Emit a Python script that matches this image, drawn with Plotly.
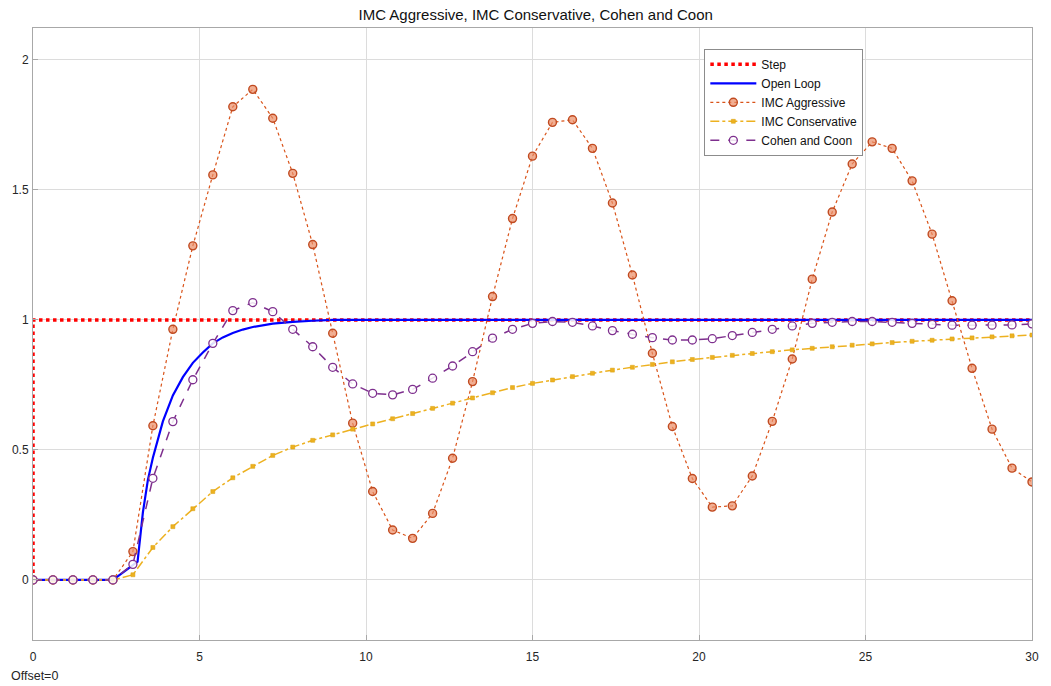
import plotly.graph_objects as go

# time grid of the closed-loop simulations (step 0.6 s)
t = [round(0.6 * i, 1) for i in range(51)]

step_t = [0, 0, 30]
step_y = [0, 1, 1]

open_t = [0, 2.4, 3.14, 3.3, 3.45, 3.6, 3.9, 4.2, 4.5, 4.8, 5.1, 5.4, 5.7, 6.0, 6.3,
          6.6, 7.2, 7.8, 8.4, 9.0, 30]
open_y = [0, 0, 0.07, 0.26, 0.385, 0.47, 0.61, 0.71, 0.78, 0.835, 0.875, 0.91, 0.933,
          0.95, 0.963, 0.973, 0.986, 0.993, 0.997, 1.0, 1.0]

imc_aggr = [0, 0, 0, 0, 0, 0.109, 0.593, 0.964, 1.285, 1.558, 1.82, 1.887, 1.776,
            1.564, 1.29, 0.949, 0.603, 0.34, 0.192, 0.16, 0.256, 0.468, 0.763, 1.09,
            1.39, 1.63, 1.76, 1.77, 1.66, 1.45, 1.173, 0.872, 0.59, 0.39, 0.28, 0.285,
            0.40, 0.61, 0.85, 1.157, 1.415, 1.6, 1.685, 1.66, 1.535, 1.33, 1.074, 0.814,
            0.58, 0.43, 0.377]

imc_cons = [0, 0, 0, 0, 0, 0.02, 0.125, 0.205, 0.274, 0.34, 0.393, 0.437, 0.479,
            0.511, 0.537, 0.558, 0.58, 0.60, 0.62, 0.64, 0.66, 0.68, 0.70, 0.72, 0.74,
            0.756, 0.769, 0.782, 0.795, 0.807, 0.818, 0.829, 0.839, 0.848, 0.856, 0.864,
            0.871, 0.878, 0.885, 0.891, 0.897, 0.903, 0.908, 0.913, 0.918, 0.922, 0.927,
            0.931, 0.935, 0.939, 0.942]

cohen_coon = [0, 0, 0, 0, 0, 0.06, 0.391, 0.609, 0.77, 0.91, 1.036, 1.067, 1.032,
              0.964, 0.897, 0.818, 0.754, 0.718, 0.712, 0.733, 0.776, 0.823, 0.878,
              0.93, 0.964, 0.987, 0.994, 0.991, 0.977, 0.959, 0.945, 0.932, 0.923,
              0.923, 0.928, 0.94, 0.952, 0.964, 0.977, 0.987, 0.991, 0.994, 0.994,
              0.991, 0.987, 0.983, 0.98, 0.98, 0.98, 0.981, 0.985]

x_ticks = [0, 5, 10, 15, 20, 25, 30]
y_ticks = [0, 0.5, 1, 1.5, 2]
y_tick_text = ["0", "0.5", "1", "1.5", "2"]

FONT = "Liberation Sans, Arial, Helvetica, sans-serif"

fig = go.Figure()
fig.add_trace(go.Scatter(x=step_t, y=step_y, mode="lines", name="Step",
                         line=dict(color="#FF0000", width=3.5, dash="dot")))
fig.add_trace(go.Scatter(x=open_t, y=open_y, mode="lines", name="Open Loop",
                         line=dict(color="#0000FF", width=2.2)))
fig.add_trace(go.Scatter(x=t, y=imc_aggr, mode="lines+markers", name="IMC Aggressive",
                         line=dict(color="#D95319", width=1.2, dash="dot"),
                         marker=dict(symbol="circle", size=8, color="rgba(235,140,100,0.7)",
                                     line=dict(color="#C04A20", width=1.4))))
fig.add_trace(go.Scatter(x=t, y=imc_cons, mode="lines+markers", name="IMC Conservative",
                         line=dict(color="#EDB120", width=1.5, dash="dashdot"),
                         marker=dict(symbol="square", size=4, color="#EDB120",
                                     line=dict(color="#D9A010", width=0.5))))
fig.add_trace(go.Scatter(x=t, y=cohen_coon, mode="lines+markers", name="Cohen and Coon",
                         line=dict(color="#7E2F8E", width=1.5, dash="dash"),
                         marker=dict(symbol="circle", size=8, color="rgba(255,255,255,0.85)",
                                     line=dict(color="#7E2F8E", width=1.3))))

axis_common = dict(showgrid=True, gridcolor="#DCDCDC", gridwidth=1, zeroline=False,
                   showline=True, linecolor="#A8A8A8", linewidth=1, mirror=True,
                   ticks="inside", ticklen=5, tickcolor="#A8A8A8",
                   tickfont=dict(family=FONT, size=12, color="#262626"))

fig.update_layout(
    width=1051, height=686,
    margin=dict(l=33, r=13, t=28, b=46),
    paper_bgcolor="white", plot_bgcolor="white",
    title=dict(text="IMC Aggressive, IMC Conservative, Cohen and Coon",
               x=0.5097, xanchor="center", y=0.979, yanchor="middle",
               font=dict(family=FONT, size=15, color="#111111")),
    xaxis=dict(range=[0, 30], tickvals=x_ticks, ticklabelstandoff=6, **axis_common),
    yaxis=dict(range=[-0.231, 2.123], tickvals=y_ticks, ticktext=y_tick_text,
               ticklabelstandoff=1, **axis_common),
    legend=dict(x=0.672, y=0.966, xanchor="left", yanchor="top",
                bgcolor="white", bordercolor="#8C8C8C", borderwidth=1,
                font=dict(family=FONT, size=12, color="#111111"),
                tracegroupgap=0, itemwidth=46),
    showlegend=True,
    annotations=[dict(text="Offset=0", xref="paper", yref="paper",
                      x=-0.024, y=-0.059, xanchor="left", yanchor="middle",
                      showarrow=False, font=dict(family=FONT, size=12.5, color="#262626"))],
)

fig.write_html("out.html")
